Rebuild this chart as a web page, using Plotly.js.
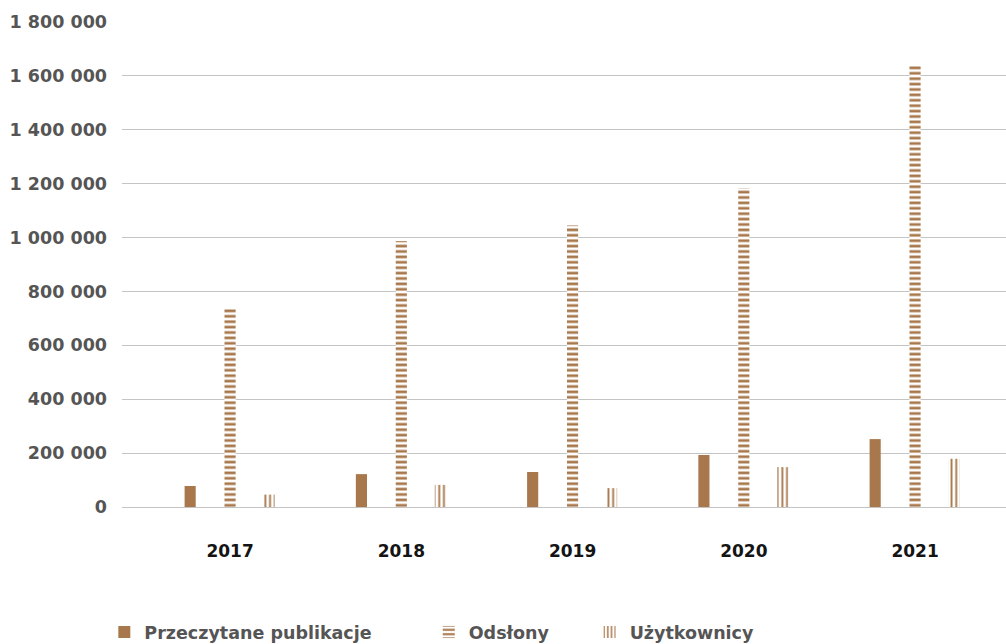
<!DOCTYPE html>
<html><head><meta charset="utf-8">
<script src="https://cdn.plot.ly/plotly-3.0.1.min.js"></script>
<style>html,body{margin:0;padding:0;background:#fff}#c{width:1006px;height:644px}</style>
</head><body><div id="c"></div>
<script>
const years = ['2017','2018','2019','2020','2021'];
const przeczytane = [78000, 122000, 130000, 193000, 252000];
const odslony = [735000, 987000, 1046000, 1184000, 1638000];
const uzytkownicy = [46000, 82000, 70000, 148000, 179000];
const tickVals = [0,200000,400000,600000,800000,1000000,1200000,1400000,1600000,1800000];
const tickText = ['0','200 000','400 000','600 000','800 000','1 000 000','1 200 000','1 400 000','1 600 000','1 800 000'];

const brown = '#a8784c';
const W = 0.065;
const FAM = 'DejaVu Sans, sans-serif';
const legendFont = {family:FAM, size:17.5, color:'#555', weight:700};

const traces = [
  {type:'bar', name:'Przeczytane publikacje', x:years, y:przeczytane, width:W, offset:-0.233-W/2,
   marker:{color:brown, line:{width:0}}, legend:'legend'},
  {type:'bar', name:'Odsłony', x:years, y:odslony, width:W, offset:-W/2,
   marker:{color:brown, line:{width:0}, pattern:{shape:'-', fgcolor:brown, bgcolor:'#ffffff', size:5.4, solidity:0.5, fillmode:'replace'}}, legend:'legend2'},
  {type:'bar', name:'Użytkownicy', x:years, y:uzytkownicy, width:W, offset:0.228-W/2,
   marker:{color:brown, line:{width:0}, pattern:{shape:'|', fgcolor:brown, bgcolor:'#ffffff', size:4.7, solidity:0.4, fillmode:'replace'}}, legend:'legend3'}
];

const legBase = {orientation:'h', yanchor:'middle', y:-0.258, xanchor:'left', font:legendFont, bgcolor:'rgba(0,0,0,0)', itemwidth:30};
const layout = {
  width:1006, height:644,
  margin:{l:122, r:0, t:22, b:137, autoexpand:false},
  paper_bgcolor:'#fff', plot_bgcolor:'#fff',
  barmode:'overlay',
  showlegend:true,
  xaxis:{type:'category', range:[-0.631, 4.531], showgrid:false, zeroline:false, showline:false, ticks:'',
    tickfont:{family:FAM, size:17, color:'#141414', weight:700}, ticklabelstandoff:32},
  yaxis:{range:[0,1800000], tickvals:tickVals, ticktext:tickText, showgrid:true, gridcolor:'#c4c4c4', gridwidth:1,
    zeroline:true, zerolinecolor:'#c4c4c4', zerolinewidth:1, showline:false, ticks:'',
    tickfont:{family:FAM, size:17.5, color:'#555', weight:700}, ticklabelstandoff:14},
  legend: Object.assign({}, legBase, {x:-0.02}),
  legend2: Object.assign({}, legBase, {x:0.347}),
  legend3: Object.assign({}, legBase, {x:0.529})
};
Plotly.newPlot('c', traces, layout, {displayModeBar:false, staticPlot:true});
</script></body></html>
